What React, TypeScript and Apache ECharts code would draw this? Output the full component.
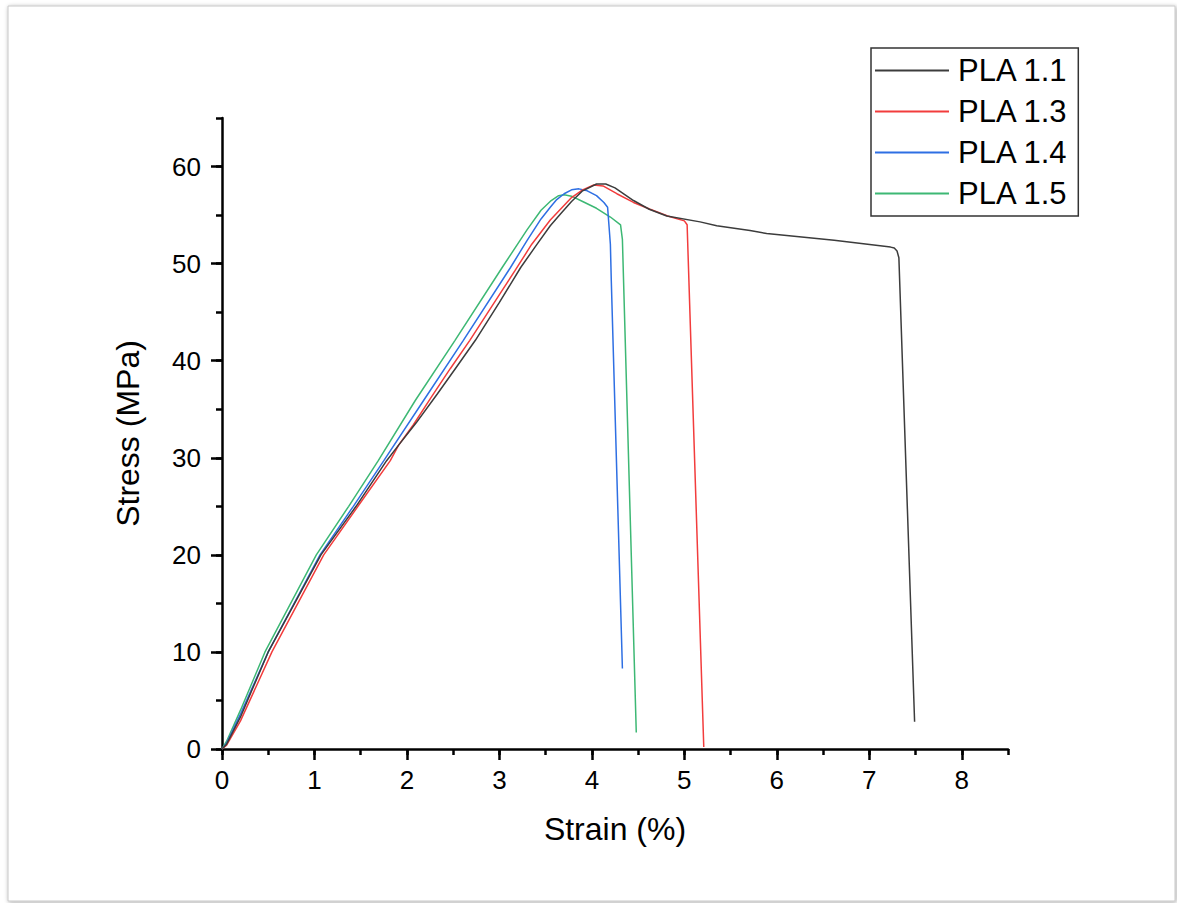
import React, { useEffect, useRef } from "react";
import * as echarts from "echarts";

// Strain (%) / Stress (MPa) pairs
const pla11: number[][] = [
  [0, 0], [0.05, 0.5], [0.2, 3.3], [0.5, 10], [1.07, 20], [1.45, 25], [1.78, 29.7],
  [1.91, 31.3], [2.1, 33.6], [2.33, 36.6], [2.54, 39.4], [2.74, 42.1], [3.0, 46.0],
  [3.23, 49.6], [3.4, 51.9], [3.55, 53.9], [3.66, 55.1], [3.78, 56.4], [3.9, 57.5],
  [4.05, 58.2], [4.15, 58.2], [4.25, 57.8], [4.45, 56.5], [4.62, 55.6], [4.81, 54.9],
  [5.17, 54.3], [5.35, 53.9], [5.71, 53.4], [5.89, 53.1], [6.62, 52.4], [7.23, 51.7],
  [7.27, 51.6], [7.3, 51.3], [7.32, 50.6], [7.49, 2.8],
];
const pla13: number[][] = [
  [0, 0], [0.05, 0.4], [0.2, 2.9], [0.54, 10], [1.1, 20], [1.47, 25], [1.82, 29.7],
  [1.91, 31.3], [2.07, 33.4], [2.26, 36.2], [2.47, 39.2], [2.68, 42.1], [3.0, 46.8],
  [3.17, 49.3], [3.35, 52.0], [3.55, 54.5], [3.66, 55.6], [3.78, 56.8], [3.9, 57.6],
  [4.02, 58.1], [4.12, 58.0], [4.27, 57.2], [4.45, 56.3], [4.63, 55.6], [4.82, 54.9],
  [5.0, 54.4], [5.03, 54.0], [5.21, 0.2],
];
const pla14: number[][] = [
  [0, 0], [0.05, 0.6], [0.2, 3.6], [0.5, 10], [1.06, 20], [1.42, 25], [1.75, 29.7],
  [2.18, 35.9], [2.61, 42.1], [3.12, 49.6], [3.3, 52.4], [3.45, 54.6], [3.55, 55.8],
  [3.62, 56.6], [3.7, 57.2], [3.78, 57.6], [3.86, 57.7], [3.95, 57.5], [4.05, 57.0],
  [4.13, 56.3], [4.17, 55.8], [4.2, 52.0], [4.21, 48.2], [4.33, 8.3],
];
const pla15: number[][] = [
  [0, 0], [0.05, 0.8], [0.2, 4.0], [0.465, 10], [1.02, 20], [1.37, 25], [1.69, 29.7],
  [2.09, 35.9], [2.52, 42.1], [3.03, 49.6], [3.3, 53.5], [3.45, 55.5], [3.56, 56.5],
  [3.64, 57.0], [3.7, 57.1], [3.78, 56.95], [3.9, 56.4], [4.05, 55.7], [4.2, 54.8],
  [4.31, 54.0], [4.33, 52.5], [4.48, 1.7],
];

const seriesNames = ["PLA 1.1", "PLA 1.3", "PLA 1.4", "PLA 1.5"];
const seriesColors = ["#3c3c3c", "#f23c3c", "#2e6fe3", "#3db874"];
const seriesData = [pla11, pla13, pla14, pla15];

const xMajorTicks = [0, 1, 2, 3, 4, 5, 6, 7, 8];
const yMajorTicks = [0, 10, 20, 30, 40, 50, 60];

const FONT = "'Liberation Sans', Arial, sans-serif";

export default function App() {
  const ref = useRef<HTMLDivElement>(null);

  useEffect(() => {
    if (!ref.current) return;
    const chart = echarts.init(ref.current, undefined, { renderer: "svg" });
    const axisLineStyle = { color: "#000", width: 2.5 };
    const tickStyle = { color: "#000", width: 2.5 };
    chart.setOption({
      animation: false,
      backgroundColor: "#ffffff",
      textStyle: { fontFamily: FONT },
      graphic: [
        {
          type: "rect",
          z: -10,
          shape: { x: 8, y: 6, width: 1167, height: 895 },
          style: {
            fill: "#ffffff",
            stroke: "#c8c8c8",
            lineWidth: 1,
            shadowBlur: 4,
            shadowColor: "rgba(0,0,0,0.35)",
            shadowOffsetX: 1,
            shadowOffsetY: 1,
          },
        },
      ],
      grid: {
        left: 222,
        top: 118,
        right: 169,
        bottom: 154,
        containLabel: false,
        outerBoundsMode: "none",
      },
      legend: {
        orient: "vertical",
        left: 871,
        top: 48,
        icon: "rect",
        itemWidth: 74,
        itemHeight: 2,
        itemGap: 10,
        padding: [7, 10, 7, 4],
        borderColor: "#333",
        borderWidth: 1.5,
        backgroundColor: "#fff",
        data: seriesNames,
        textStyle: {
          fontSize: 31,
          lineHeight: 30,
          color: "#000",
          fontFamily: FONT,
          padding: [0, 0, 0, 4],
        },
      },
      xAxis: [
        {
          type: "value",
          min: 0,
          max: 8.5,
          interval: 0.5,
          name: "Strain (%)",
          nameLocation: "middle",
          nameGap: 64,
          nameTextStyle: { fontSize: 32, color: "#000", fontFamily: FONT },
          axisLine: { show: true, onZero: false, lineStyle: axisLineStyle },
          axisTick: { show: true, length: 6, lineStyle: tickStyle },
          axisLabel: {
            fontSize: 26,
            color: "#000",
            margin: 18,
            fontFamily: FONT,
            formatter: (v: number) => (Number.isInteger(v) ? String(v) : ""),
          },
          splitLine: { show: false },
        },
        {
          type: "value",
          min: 0,
          max: 8.5,
          interval: 0.5,
          position: "bottom",
          axisLine: { show: false },
          axisTick: {
            show: true,
            length: 11,
            customValues: xMajorTicks,
            lineStyle: tickStyle,
          },
          axisLabel: { show: false },
          splitLine: { show: false },
        },
      ],
      yAxis: [
        {
          type: "value",
          min: 0,
          max: 65,
          interval: 5,
          name: "Stress (MPa)",
          nameLocation: "middle",
          nameGap: 78,
          nameTextStyle: { fontSize: 32, color: "#000", fontFamily: FONT },
          axisLine: { show: true, onZero: false, lineStyle: axisLineStyle },
          axisTick: { show: true, length: 6, lineStyle: tickStyle },
          axisLabel: {
            fontSize: 26,
            color: "#000",
            margin: 21,
            fontFamily: FONT,
            formatter: (v: number) => (v % 10 === 0 ? String(v) : ""),
          },
          splitLine: { show: false },
        },
        {
          type: "value",
          min: 0,
          max: 65,
          interval: 5,
          position: "left",
          axisLine: { show: false },
          axisTick: {
            show: true,
            length: 11,
            customValues: yMajorTicks,
            lineStyle: tickStyle,
          },
          axisLabel: { show: false },
          splitLine: { show: false },
        },
      ],
      series: seriesData.map((d, i) => ({
        name: seriesNames[i],
        type: "line",
        data: d,
        xAxisIndex: 0,
        yAxisIndex: 0,
        symbol: "none",
        showSymbol: false,
        smooth: false,
        color: seriesColors[i],
        itemStyle: { color: seriesColors[i] },
        lineStyle: { color: seriesColors[i], width: 1.5 },
        z: 10 - i,
      })),
    });
    return () => chart.dispose();
  }, []);

  return (
    <div
      ref={ref}
      style={{ position: "absolute", left: 0, top: 0, width: 1177, height: 903 }}
    />
  );
}
